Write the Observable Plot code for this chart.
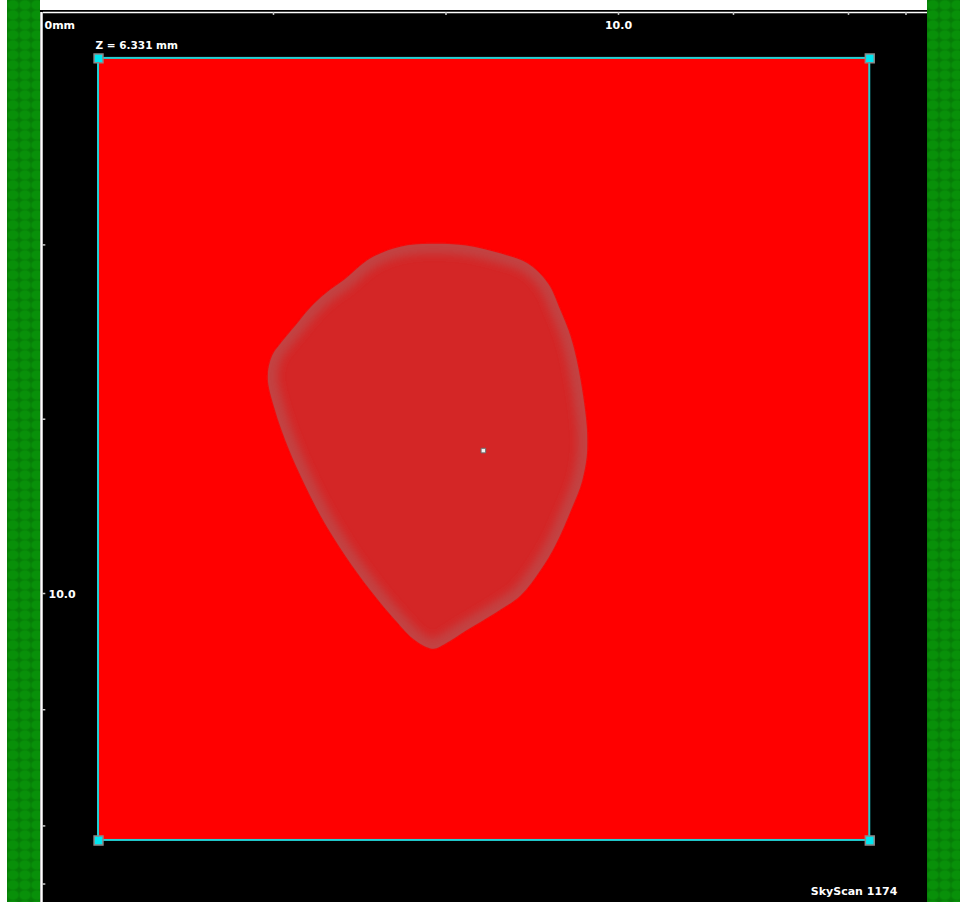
<!DOCTYPE html>
<html><head><meta charset="utf-8">
<script src="https://cdn.jsdelivr.net/npm/d3@7"></script>
<script src="https://cdn.jsdelivr.net/npm/@observablehq/plot@0.6"></script>
<style>
html,body{margin:0;padding:0;background:#fff;}
#page{position:relative;width:960px;height:902px;overflow:hidden;background:#fff;}
.green{position:absolute;top:0;height:902px;background-color:#078a08;
  background-image:radial-gradient(ellipse at center,#089009 55%,#067c07 80%);
  background-size:12px 10px;}
#chart{position:absolute;left:40px;top:10px;width:887px;height:892px;}
</style></head><body>
<div id="page">
<div class="green" style="left:7px;width:33px"></div>
<div class="green" style="left:927px;width:33px"></div>
<div id="chart"></div>
</div>
<script>
// ruler ticks (mm)
const xTicks = [4, 7, 10, 12, 14, 15];
const yTicks = [4, 7, 10, 12, 14, 15];
const xLabelValues = [0, 10];
const xLabelTexts = ["0mm", "10.0"];
const yLabelValues = [10];
const yLabelTexts = ["10.0"];

// region of interest (mm)
const roiX = [0.957, 14.37];
const roiY = [0.79, 14.25];

// specimen cross-section outline (mm)
const blobX = [6.73,7.34,7.95,8.42,8.77,8.99,9.17,9.34,9.46,9.37,9.17,8.90,8.64,8.30,7.86,7.34,6.99,6.77,6.47,6.12,5.69,5.25,4.82,4.47,4.21,4.03,3.90,3.98,4.12,4.38,4.64,4.90,5.22,5.69,6.21];
const blobY = [3.98,4.01,4.15,4.32,4.66,5.13,5.59,6.33,7.42,8.05,8.57,9.17,9.60,10.03,10.33,10.64,10.86,10.95,10.81,10.46,9.95,9.35,8.66,7.97,7.37,6.85,6.28,5.90,5.70,5.39,5.08,4.84,4.61,4.23,4.03];

// centre marker (mm)
const centerX = [7.65];
const centerY = [7.54];

const sliceLabel = "Z = 6.331 mm";
const brandLabel = "SkyScan 1174";

const blob = blobX.map((x, i) => ({x, y: blobY[i]}));
const roi = [{x1: roiX[0], x2: roiX[1], y1: roiY[0], y2: roiY[1]}];
const corners = [];
for (const x of roiX) for (const y of roiY) corners.push({x, y});
const center = centerX.map((x, i) => ({x, y: centerY[i]}));
const xLabels = xLabelValues.map((v, i) => ({v, t: xLabelTexts[i]}));
const yLabels = yLabelValues.map((v, i) => ({v, t: yLabelTexts[i]}));

const font = "DejaVu Sans";
const plot = Plot.plot({
  width: 887,
  height: 892,
  marginLeft: 3, marginRight: 0, marginTop: 2, marginBottom: 0,
  x: {domain: [0, 15.374], axis: null},
  y: {domain: [0, 15.318], reverse: true, axis: null},
  style: {background: "#000", overflow: "visible"},
  marks: [
    Plot.ruleY([0], {stroke: "#fff", strokeWidth: 1.6}),
    Plot.ruleX([-0.035], {stroke: "#fff", strokeWidth: 2.5}),
    Plot.ruleX(xTicks, {x: d => d, y1: 0, y2: 0.05, stroke: "#ccc", strokeWidth: 1.5}),
    Plot.ruleY(yTicks, {y: d => d, x1: -0.02, x2: 0.04, stroke: "#ccc", strokeWidth: 1.5}),
    Plot.text(xLabels, {x: "v", y: 0, text: "t", dy: 12.5, dx: 1, textAnchor: "start", fill: "#fff", fontSize: 11, fontFamily: font, fontWeight: "bold", filter: d => d.v === 0}),
    Plot.text(xLabels, {x: "v", y: 0, text: "t", dy: 12.5, textAnchor: "middle", fill: "#fff", fontSize: 11, fontFamily: font, fontWeight: "bold", filter: d => d.v !== 0}),
    Plot.text(yLabels, {x: 0, y: "v", text: "t", dx: 5, dy: 1, textAnchor: "start", fill: "#fff", fontSize: 11, fontFamily: font, fontWeight: "bold"}),
    Plot.text([sliceLabel], {x: roiX[0], y: roiY[0], text: d => d, dx: -3, dy: -13, textAnchor: "start", fill: "#fff", fontSize: 10.5, fontFamily: font, fontWeight: "bold"}),
    Plot.rect(roi, {x1: "x1", x2: "x2", y1: "y1", y2: "y2", fill: "#ff0000", stroke: "#22d0d4", strokeWidth: 2}),
    Plot.line(blob, {x: "x", y: "y", curve: "catmull-rom-closed", fill: "#d42828", stroke: "none"}),
    Plot.line(blob, {x: "x", y: "y", curve: "catmull-rom-closed", fill: "none", stroke: "#c24242", strokeWidth: 20}),
    Plot.dot(corners, {x: "x", y: "y", symbol: "square", r: 5, fill: "#00e6f0", stroke: "#8a8a8a", strokeWidth: 1.5}),
    Plot.dot(center, {x: "x", y: "y", symbol: "square", r: 2.6, fill: "#f0f0f0", stroke: "#6a6a6a", strokeWidth: 1}),
    Plot.text([brandLabel], {x: 14.85, y: 15.13, text: d => d, textAnchor: "end", fill: "#fff", fontSize: 11, fontFamily: font, fontWeight: "bold"})
  ]
});
document.getElementById("chart").appendChild(plot);

// soften the specimen edge: clip the edge band to the inside and blur it
const svg = d3.select(plot);
const lines = svg.selectAll("g[aria-label='line']").nodes();
if (lines.length === 2) {
  const fillPath = d3.select(lines[0]).select("path");
  const d = fillPath.attr("d");
  const defs = svg.insert("defs", ":first-child");
  defs.append("clipPath").attr("id", "blobclip").append("path").attr("d", d);
  const f = defs.append("filter").attr("id", "soft").attr("x", "-10%").attr("y", "-10%").attr("width", "120%").attr("height", "120%");
  f.append("feGaussianBlur").attr("stdDeviation", 4);
  const f2 = defs.append("filter").attr("id", "soft2").attr("x", "-10%").attr("y", "-10%").attr("width", "120%").attr("height", "120%");
  f2.append("feGaussianBlur").attr("stdDeviation", 0.8);
  const edgeG = d3.select(lines[1]);
  const inner = edgeG.append("g").attr("clip-path", "url(#blobclip)");
  const edgePath = edgeG.select("path").remove();
  const wrap = inner.append("g").attr("filter", "url(#soft)");
  wrap.node().appendChild(edgePath.node());
  d3.select(lines[0]).attr("filter", "url(#soft2)");
}
</script>
</body></html>
